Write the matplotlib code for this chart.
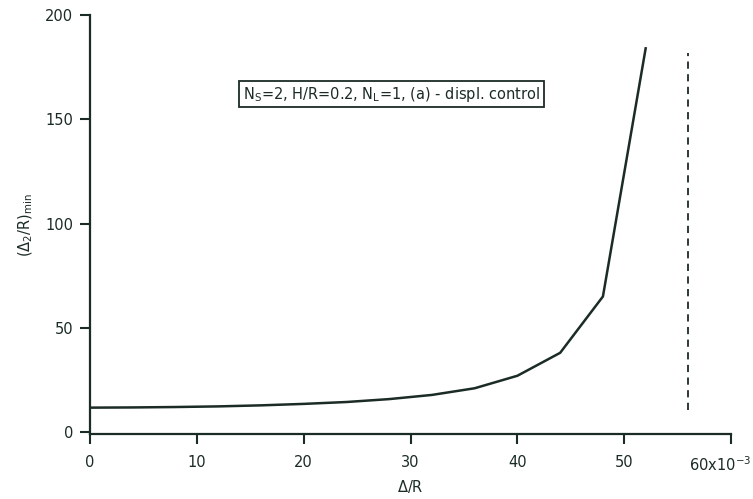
import matplotlib
matplotlib.use("Agg")
import matplotlib.pyplot as plt
from matplotlib.transforms import blended_transform_factory

# curve data (x in units of 1e-3)
dr = [0, 4, 8, 12, 16, 20, 24, 28, 32, 36, 40, 44, 48, 52]
d2r_min = [11.7, 11.8, 12.0, 12.3, 12.8, 13.5, 14.4, 15.8, 17.8, 21.0, 27.0, 38.0, 65.0, 184.0]
limit_x = 56
limit_y = [10.5, 182]

ink = "#1b2b25"
plt.rcParams['font.family'] = ['DejaVu Sans']
plt.rcParams['mathtext.fontset'] = 'dejavusans'

fig = plt.figure(figsize=(7.53, 4.99), dpi=100)
ax = fig.add_axes([0.1195, 0.130, 0.8515, 0.840])

ax.plot(dr, d2r_min, color=ink, lw=1.8)
ax.plot([limit_x, limit_x], limit_y, color=ink, lw=1.3, ls=(0, (4, 3)))

ax.set_xlim(0, 60)
ax.set_ylim(-1, 200)
ax.set_xticks([0, 10, 20, 30, 40, 50, 60])
ax.set_xticklabels(["0", "10", "20", "30", "40", "50", ""])
ax.set_yticks([0, 50, 100, 150, 200])

for s in ["top", "right"]:
    ax.spines[s].set_visible(False)
for s in ["left", "bottom"]:
    ax.spines[s].set_linewidth(1.6)
    ax.spines[s].set_color(ink)
ax.tick_params(direction="out", length=7, width=1.5, colors=ink, labelsize=10.5)
ax.tick_params(axis="x", pad=8)
ax.tick_params(axis="y", pad=5)

# last x tick label carries the scale factor
trans = blended_transform_factory(fig.transFigure, ax.transAxes)
ax.text(0.998, -0.074, r"60x10$^{-3}$", transform=trans, ha="right", va="center",
        fontsize=10.5, color=ink)

ax.set_xlabel(r"$\Delta$/R", fontsize=10.5, color=ink, labelpad=6)
ax.set_ylabel(r"($\Delta_{2}$/R)$_{\mathrm{min}}$", fontsize=10.5, color=ink, labelpad=7)

ax.text(28.2, 162, r"N$_{\mathrm{S}}$=2, H/R=0.2, N$_{\mathrm{L}}$=1, (a) - displ. control",
        ha="center", va="center", fontsize=10.5, color=ink,
        bbox=dict(boxstyle="square,pad=0.25", fc="white", ec=ink, lw=1.3))

fig.savefig("out.png", dpi=100)
